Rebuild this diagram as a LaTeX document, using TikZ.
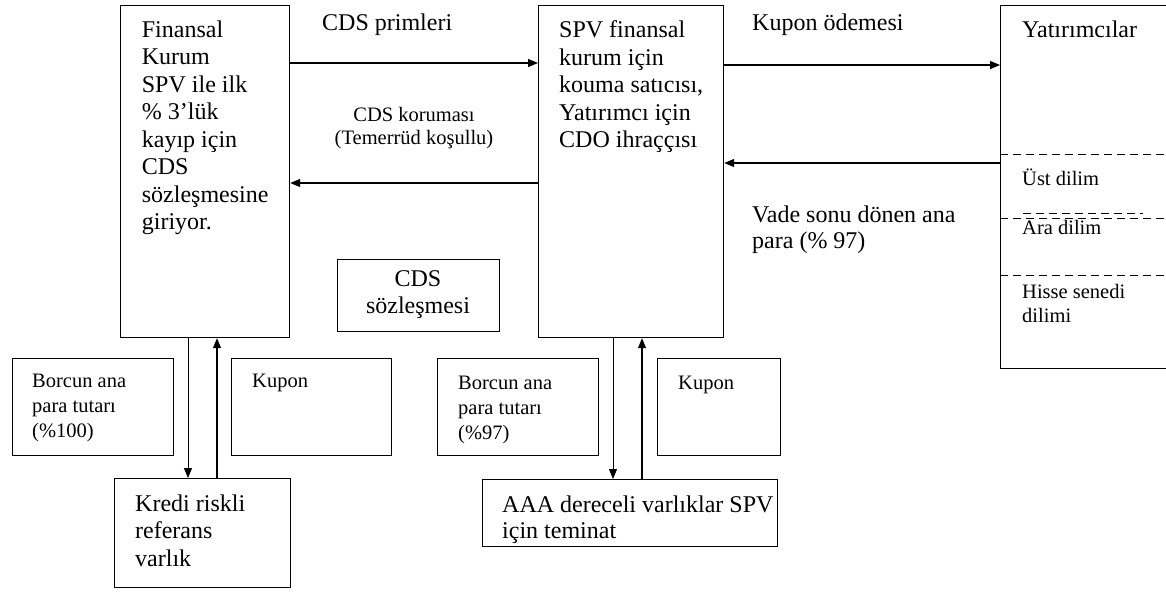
\documentclass[tikz,border=0pt]{standalone}
\usepackage{fontspec}
\setmainfont{Liberation Serif}
\usetikzlibrary{arrows.meta}
\begin{document}
\begin{tikzpicture}[x=1pt,y=-1pt,
  box/.style={draw, line width=1.2pt, rectangle, inner sep=0pt, anchor=north west},
  big/.style={font=\fontsize{24}{27.5}\selectfont, inner sep=0pt, anchor=base west},
  small/.style={font=\fontsize{20.5}{24.5}\selectfont, inner sep=0pt, anchor=base west},
  arr/.style={line width=1.2pt, -{Triangle[length=10pt,width=8pt]}},
  thinarr/.style={line width=0.9pt, -{Triangle[length=10pt,width=8pt]}},
  cut/.style={dash pattern=on 8pt off 5pt, line width=1pt}]
\useasboundingbox (0,0) rectangle (1166,592);
% boxes
\node[box, minimum width=169pt, minimum height=332pt] (b1) at (120,5) {};
\node[box, minimum width=185pt, minimum height=332pt] (spv) at (538,5) {};
\node[box, minimum width=180pt, minimum height=363pt] (yat) at (1000,5) {};
\node[box, minimum width=162pt, minimum height=72pt] (cdss) at (337,259) {};
\node[box, minimum width=161pt, minimum height=97pt] (borc1) at (12,358) {};
\node[box, minimum width=160pt, minimum height=97pt] (kup1) at (231,358) {};
\node[box, minimum width=176pt, minimum height=109pt] (kredi) at (114,478) {};
\node[box, minimum width=161pt, minimum height=97pt] (borc2) at (437,358) {};
\node[box, minimum width=123pt, minimum height=97pt] (kup2) at (657,358) {};
\node[box, minimum width=295pt, minimum height=67pt] (aaa) at (482,479) {};
% tranche dividers
\draw[cut] ([yshift=-149pt]yat.north west) -- ++(170,0);
\draw[cut] ([yshift=-213pt]yat.north west) -- ++(170,0);
\draw[cut] ([yshift=-208pt,xshift=23pt]yat.north west) -- ++(120,0);
\draw[cut] ([yshift=-270pt]yat.north west) -- ++(170,0);
% connectors
\draw[arr] ([yshift=-58pt]b1.north east) -- ([yshift=-58pt]spv.north west);
\draw[arr] ([yshift=-60pt]spv.north east) -- ([yshift=-60pt]yat.north west);
\draw[arr] ([yshift=-178pt]spv.north west) -- ([yshift=-178pt]b1.north east);
\draw[arr] ([yshift=-158pt]yat.north west) -- ([yshift=-158pt]spv.north east);
\draw[thinarr] ([xshift=68pt]b1.south west) -- ([xshift=74pt]kredi.north west);
\draw[arr] ([xshift=103pt]kredi.north west) -- ([xshift=97pt]b1.south west);
\draw[thinarr] ([xshift=75pt]spv.south west) -- ([xshift=131pt]aaa.north west);
\draw[arr] ([xshift=160pt]aaa.north west) -- ([xshift=104pt]spv.south west);
% texts
\node[big] (t1) at (141.7,37) {\begin{tabular}[t]{@{}l@{}}Finansal\\Kurum\\SPV ile ilk\\\% 3’lük\\kayıp için\\CDS\\sözleşmesine\\giriyor.\end{tabular}};
\node[big] (tprim) at (322,30) {CDS primleri};
\node[big] (tkup) at (752,30) {Kupon ödemesi};
\node[big] (tspv) at (559,37.7) {\begin{tabular}[t]{@{}l@{}}SPV finansal\\kurum için\\kouma satıcısı,\\Yatırımcı için\\CDO ihraççısı\end{tabular}};
\node[big] (tyat) at (1022,37) {Yatırımcılar};
\node[small, anchor=base, font=\fontsize{20.5}{23}\selectfont] (tkor) at (414,121) {\begin{tabular}[t]{@{}c@{}}CDS koruması\\(Temerrüd koşullu)\end{tabular}};
\node[big, font=\fontsize{24}{26}\selectfont] (tvade) at (752,222) {\begin{tabular}[t]{@{}l@{}}Vade sonu dönen ana\\para (\% 97)\end{tabular}};
\node[small] (tust) at (1022,185) {Üst dilim};
\node[small] (tara) at (1022,234) {Ara dilim};
\node[small] (this) at (1022,298) {\begin{tabular}[t]{@{}l@{}}Hisse senedi\\dilimi\end{tabular}};
\node[big, anchor=base] (tcds) at (418,286) {\begin{tabular}[t]{@{}c@{}}CDS\\sözleşmesi\end{tabular}};
\node[small, font=\fontsize{20.5}{25}\selectfont] (tb1) at (32,387) {\begin{tabular}[t]{@{}l@{}}Borcun ana\\para tutarı\\(\%100)\end{tabular}};
\node[small] (tk1) at (252,387) {Kupon};
\node[big] (tkr) at (135,511) {\begin{tabular}[t]{@{}l@{}}Kredi riskli\\referans\\varlık\end{tabular}};
\node[small, font=\fontsize{20.5}{25}\selectfont] (tb2) at (458,389) {\begin{tabular}[t]{@{}l@{}}Borcun ana\\para tutarı\\(\%97)\end{tabular}};
\node[small] (tk2) at (678,389) {Kupon};
\node[big, font=\fontsize{24}{26}\selectfont] (taaa) at (502,512) {\begin{tabular}[t]{@{}l@{}}AAA dereceli varlıklar SPV\\için teminat\end{tabular}};
\end{tikzpicture}
\end{document}
